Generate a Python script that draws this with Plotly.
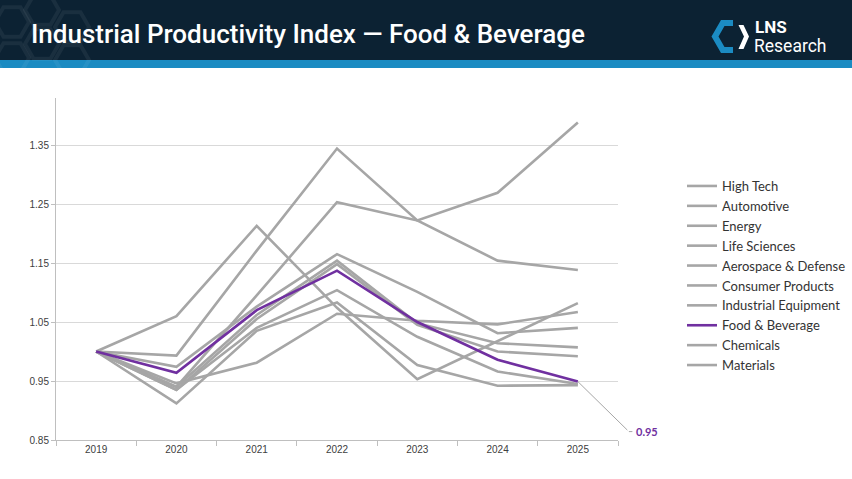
import plotly.graph_objects as go

years = ["2019", "2020", "2021", "2022", "2023", "2024", "2025"]

high_tech = [1.00, 0.940, 1.095, 1.253, 1.222, 1.269, 1.388]
automotive = [1.00, 0.993, 1.171, 1.344, 1.222, 1.154, 1.138]
energy = [1.00, 1.060, 1.213, 1.074, 0.953, 1.018, 1.082]
life_sciences = [1.00, 0.974, 1.076, 1.165, 1.101, 1.031, 1.040]
aerospace = [1.00, 0.940, 1.062, 1.154, 1.048, 1.014, 1.007]
consumer = [1.00, 0.935, 1.055, 1.148, 1.045, 1.000, 0.992]
industrial = [1.00, 0.935, 1.040, 1.104, 1.025, 0.966, 0.945]
food_bev = [1.00, 0.964, 1.070, 1.137, 1.050, 0.986, 0.949]
chemicals = [1.00, 0.912, 1.035, 1.083, 0.977, 0.942, 0.943]
materials = [1.00, 0.946, 0.981, 1.064, 1.052, 1.046, 1.067]

series_names = ["High Tech", "Automotive", "Energy", "Life Sciences", "Aerospace & Defense",
                "Consumer Products", "Industrial Equipment", "Food & Beverage", "Chemicals", "Materials"]
series_values = [high_tech, automotive, energy, life_sciences, aerospace,
                 consumer, industrial, food_bev, chemicals, materials]

y_ticks = [0.85, 0.95, 1.05, 1.15, 1.25, 1.35]
title_text = "Industrial Productivity Index \u2014 Food & Beverage"
highlight = "Food & Beverage"

GRAY = "#a6a6a6"
PURPLE = "#7030a0"
NAVY = "#0c2233"
BLUE = "#1b8bc2"

W, H = 852, 479
L, R, T, B = 56, 618, 98, 440


def px(x):
    return (x - L) / (R - L)


def py(y):
    return (B - y) / (B - T)


fig = go.Figure()
order = [i for i, n in enumerate(series_names) if n != highlight] + \
        [i for i, n in enumerate(series_names) if n == highlight]
for i in order:
    name = series_names[i]
    fig.add_trace(go.Scatter(
        x=years, y=series_values[i], name=name, mode="lines",
        line=dict(color=PURPLE if name == highlight else GRAY, width=2.6),
        legendrank=i + 1, hoverinfo="skip"))

shapes = []
# header band
shapes.append(dict(type="rect", xref="paper", yref="paper", x0=px(0), x1=px(W), y0=py(60), y1=py(0),
                   fillcolor=NAVY, line=dict(width=0), layer="below"))
shapes.append(dict(type="rect", xref="paper", yref="paper", x0=px(0), x1=px(W), y0=py(68), y1=py(60),
                   fillcolor=BLUE, line=dict(width=0), layer="below"))


def hexpath(cx, cy, r):
    pts = [(cx + r * c, cy + r * s) for c, s in [(1, 0), (0.5, 0.866), (-0.5, 0.866), (-1, 0), (-0.5, -0.866), (0.5, -0.866)]]
    return "M" + " L".join(f"{px(a):.5f},{py(b):.5f}" for a, b in pts) + " Z"


for cx, cy in [(12, 22), (42, 10), (42, 44), (72, 27), (12, 58), (72, 60)]:
    shapes.append(dict(type="path", xref="paper", yref="paper", path=hexpath(cx, cy, 17),
                       line=dict(color="rgba(255,255,255,0.06)", width=4), layer="below"))


def poly(points):
    return "M" + " L".join(f"{px(a):.5f},{py(b):.5f}" for a, b in points) + " Z"


# logo blue bracket
shapes.append(dict(type="path", xref="paper", yref="paper",
                   path=poly([(721, 20), (733, 20), (733, 26), (724.5, 26), (718.5, 36.5), (724.5, 47),
                              (733, 47), (733, 53), (721, 53), (711.5, 36.5)]),
                   fillcolor=BLUE, line=dict(width=0)))
# logo white chevron
shapes.append(dict(type="path", xref="paper", yref="paper",
                   path=poly([(738.5, 25), (743.5, 25), (749, 36.5), (743.5, 49), (738.5, 49), (744, 36.5)]),
                   fillcolor="white", line=dict(width=0)))

fb = series_values[series_names.index(highlight)]
last = len(years) - 1

annotations = [
    dict(text=title_text, xref="paper", yref="paper", x=px(29), y=py(34), xanchor="left", yanchor="middle",
         showarrow=False, font=dict(family="Roboto", size=26, color="white", weight=500)),
    dict(text="<b>LNS</b>", xref="paper", yref="paper", x=px(753), y=py(26.5), xanchor="left", yanchor="middle",
         showarrow=False, font=dict(family="Roboto", size=17, color="white")),
    dict(text="Research", xref="paper", yref="paper", x=px(752), y=py(46.5), xanchor="left", yanchor="middle",
         showarrow=False, font=dict(family="Roboto", size=17.5, color="white")),
    # leader line (diagonal + short horizontal)
    dict(text="", x=last, y=fb[-1], xref="x", yref="y", showarrow=True, arrowhead=0, arrowwidth=1,
         arrowcolor="#a6a6a6", ax=51, ay=50, standoff=0, startstandoff=0),
    dict(text="", x=last, y=fb[-1], xref="x", yref="y", showarrow=True, arrowhead=0, arrowwidth=1,
         arrowcolor="#a6a6a6", ax=5, ay=0, xshift=51, yshift=-50, standoff=0, startstandoff=0),
    dict(text=f"<b>{fb[-1]:.2f}</b>", x=last, y=fb[-1], xref="x", yref="y", showarrow=False,
         xanchor="left", yanchor="middle", xshift=56, yshift=-50,
         font=dict(family="Lato", size=11, color=PURPLE)),
]

fig.update_layout(
    width=W, height=H,
    margin=dict(l=L, r=W - R, t=T, b=H - B, pad=0, autoexpand=False),
    paper_bgcolor="white", plot_bgcolor="white",
    showlegend=True,
    legend=dict(x=px(682), y=py(171), xanchor="left", yanchor="top",
                font=dict(family="Lato", size=13, color="#333333"),
                itemwidth=30, tracegroupgap=0, bgcolor="rgba(0,0,0,0)"),
    shapes=shapes, annotations=annotations,
    xaxis=dict(type="category", range=[-0.5, 6.5], tickson="boundaries", ticks="outside", ticklen=5,
               tickcolor="#bfbfbf", showline=True, linecolor="#bfbfbf", linewidth=1, showgrid=False,
               tickfont=dict(family="Liberation Sans", size=10, color="#404040"), fixedrange=True),
    yaxis=dict(range=[0.85, 0.85 + (B - T) / 590], tickvals=y_ticks, ticktext=[f"{v:.2f}" for v in y_ticks],
               ticks="outside", ticklen=4, tickcolor="#bfbfbf", showline=True, linecolor="#bfbfbf", linewidth=1,
               showgrid=True, gridcolor="#d9d9d9", gridwidth=1, zeroline=False,
               tickfont=dict(family="Liberation Sans", size=10, color="#404040"), fixedrange=True),
)

fig.write_html("out.html", config={"displayModeBar": False})
